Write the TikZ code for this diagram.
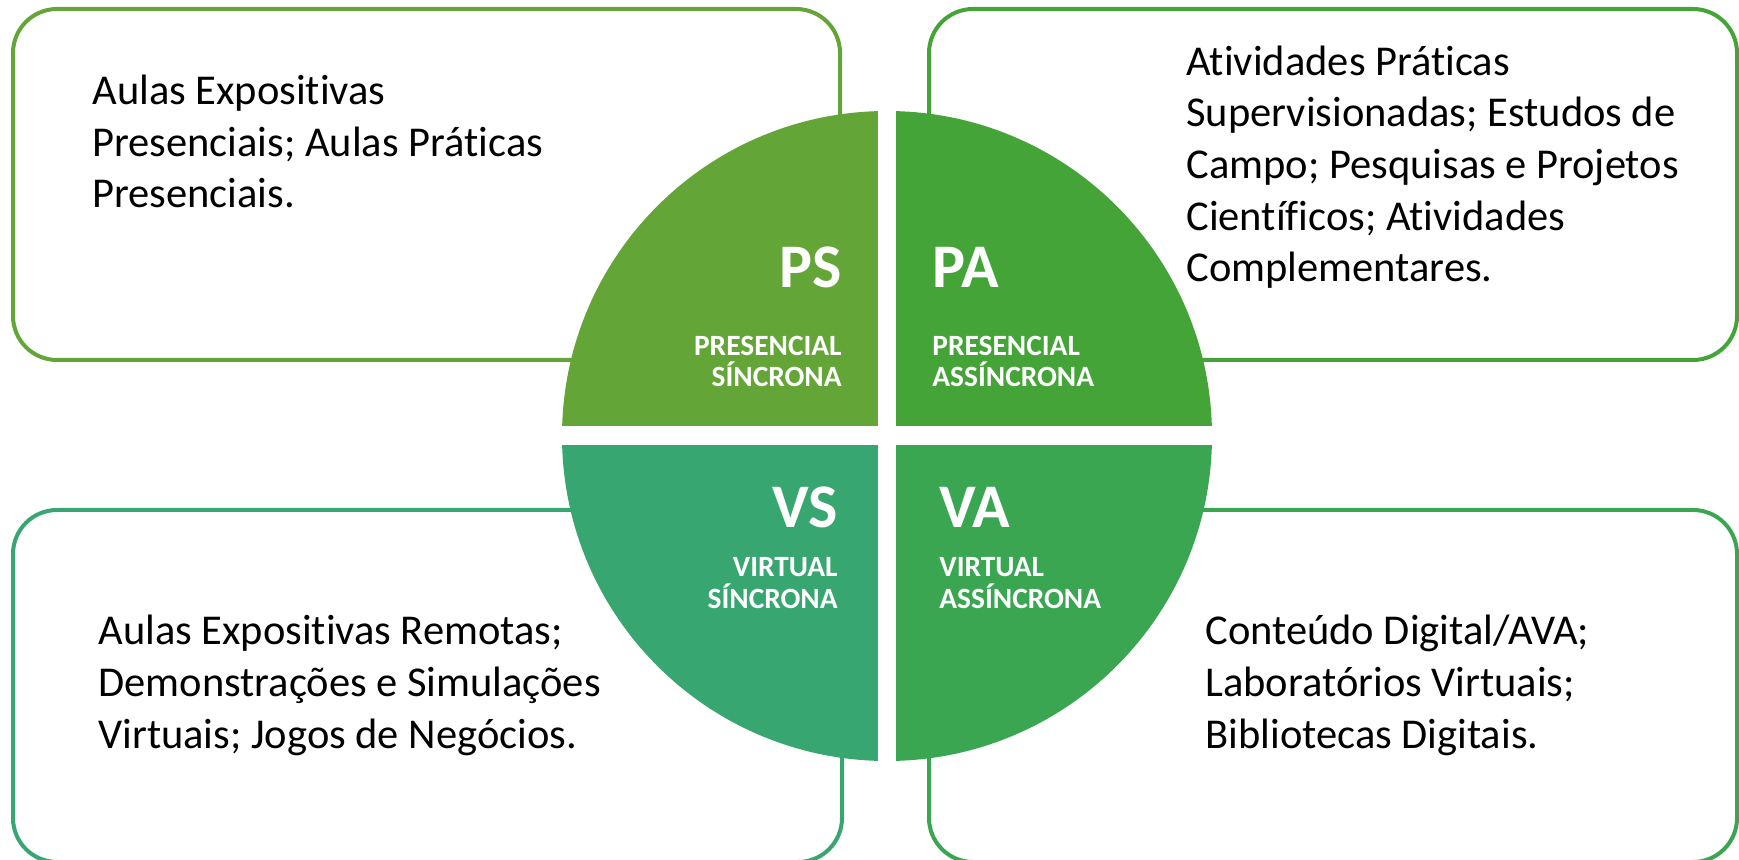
\documentclass[tikz,border=0pt]{standalone}
\usepackage{fontspec}
\setmainfont{Carlito}[Ligatures=NoCommon]
\usepackage{tikz}
\usetikzlibrary{positioning}
\definecolor{psgreen}{HTML}{63A537}
\definecolor{pagreen}{HTML}{44A438}
\definecolor{vsgreen}{HTML}{37A670}
\definecolor{vagreen}{HTML}{3AA652}
\tikzstyle{panel}=[line width=2pt,rounded corners=22pt]
\tikzstyle{desc}=[anchor=base west,inner sep=0pt,align=left,font=\fontsize{21.25pt}{25.85pt}\selectfont]
\tikzstyle{code}=[text=white,inner sep=0pt,font=\bfseries\fontsize{31pt}{32pt}\selectfont]
\tikzstyle{mode}=[text=white,inner sep=0pt,font=\bfseries\fontsize{14.7pt}{15.9pt}\selectfont]
\tikzstyle{gap}=[fill=white,inner sep=0pt]

\begin{document}
\begin{tikzpicture}[x=0.5pt,y=-0.5pt]
    \useasboundingbox (0,0) rectangle (1739,860);
    % First we draw the four panels behind the circle
    \foreach \a/\b/\col in {{(13,9)/(840,360)/psgreen}, {(929,9)/(1737,360)/pagreen}, {(13,510)/(842,862)/vsgreen}, {(929,510)/(1737,862)/vagreen}}
        \draw[panel,\col] \a rectangle \b;
    % Then the circle, one quarter per mode
    \coordinate (c) at (887,436);
    \foreach \ang/\col in {0/pagreen, 90/psgreen, 180/vsgreen, 270/vagreen}
        \fill[\col] (c) -- ++(\ang:162.5pt) arc[start angle=\ang, delta angle=90, radius=162.5pt] -- cycle;
    \node[gap,minimum width=327pt,minimum height=9.5pt] (hgap) at (c) {};
    \node[gap,minimum width=9pt,minimum height=327pt] (vgap) at (c) {};
    % Codes and names of the modes (base is the last line)
    \node[code,anchor=base east] (ps) at (842,288) {PS};
    \node[mode,anchor=base east,align=right] (psname) at (842,387) {PRESENCIAL\\SÍNCRONA};
    \node[code,anchor=base west] (pa) at (932,288) {PA};
    \node[mode,anchor=base west,align=left] (paname) at (932,387) {PRESENCIAL\\ASSÍNCRONA};
    \node[code,anchor=base east] (vs) at (838,528) {VS};
    \node[mode,anchor=base east,align=right] (vsname) at (838,608) {VIRTUAL\\SÍNCRONA};
    \node[code,anchor=base west] (va) at (939,528) {VA};
    \node[mode,anchor=base west,align=left] (vaname) at (939,608) {VIRTUAL\\ASSÍNCRONA};
    % Texts in the panels
    \node[desc] (psdesc) at (92,208) {Aulas Expositivas\\Presenciais; Aulas Práticas\\Presenciais.};
    \node[desc] (padesc) at (1186,282) {Atividades Práticas\\Supervisionadas; Estudos de\\Campo; Pesquisas e Projetos\\Científicos; Atividades\\Complementares.};
    \node[desc] (vsdesc) at (98,748) {Aulas Expositivas Remotas;\\Demonstrações e Simulações\\Virtuais; Jogos de Negócios.};
    \node[desc] (vadesc) at (1205,748) {Conteúdo Digital/AVA;\\Laboratórios Virtuais;\\Bibliotecas Digitais.};
\end{tikzpicture}
\end{document}
